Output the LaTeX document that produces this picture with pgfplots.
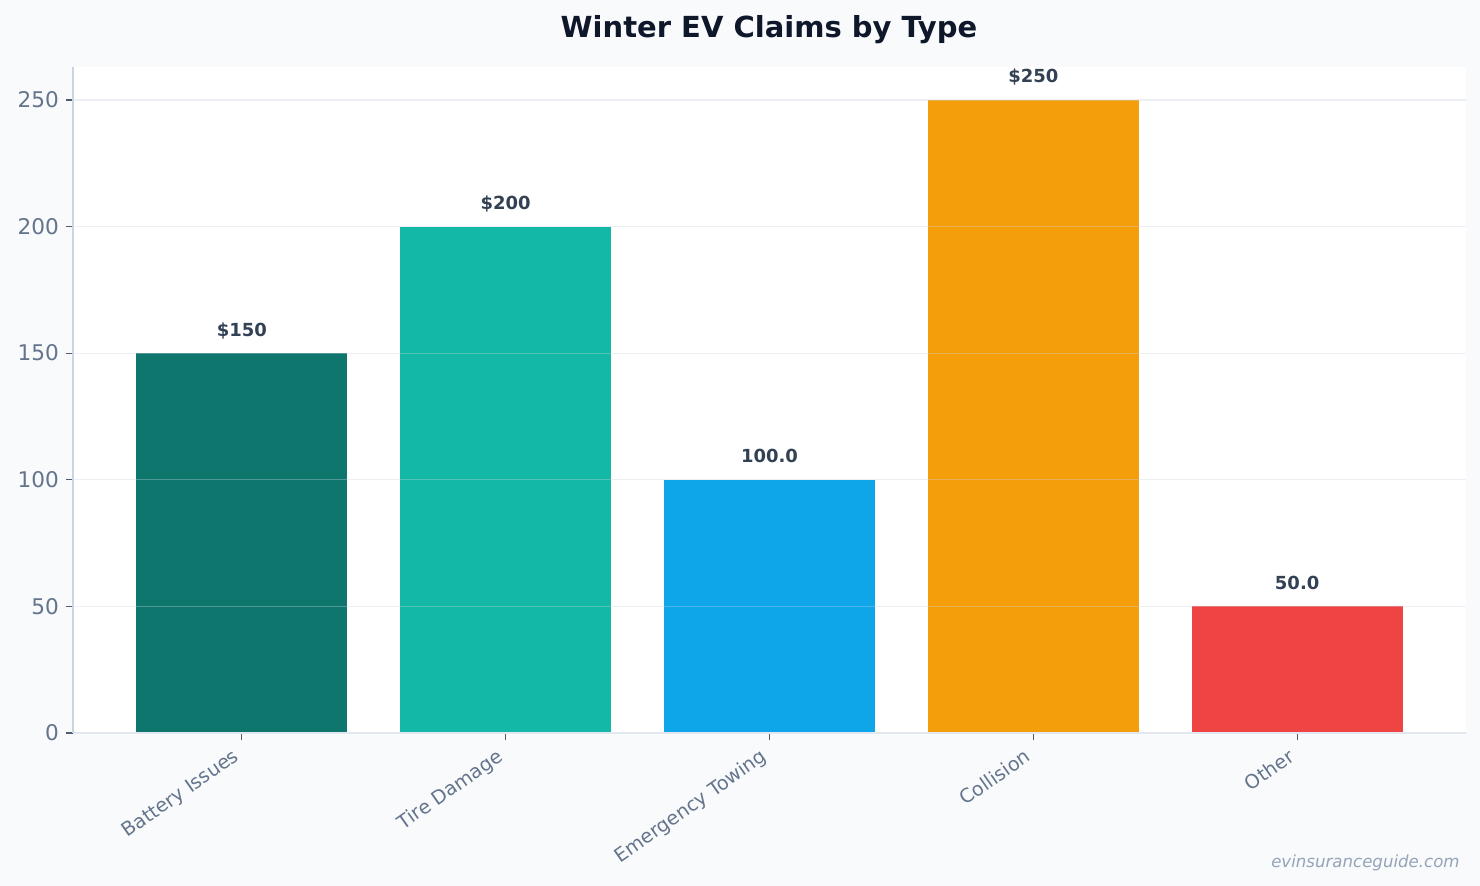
\documentclass[border=0pt]{standalone}
\usepackage{fontspec}
\setmainfont{DejaVu Sans}
\usepackage{pgfplots}
\pgfplotsset{compat=1.18}
\definecolor{bgc}{HTML}{F8FAFC}
\definecolor{titlec}{HTML}{0F172A}
\definecolor{tickc}{HTML}{64748B}
\definecolor{labc}{HTML}{334155}
\definecolor{spinec}{HTML}{CBD5E1}
\definecolor{spinex}{HTML}{E2E8F0}
\definecolor{wm}{HTML}{94A3B8}
\definecolor{c1}{HTML}{0F766E}
\definecolor{c2}{HTML}{14B8A6}
\definecolor{c3}{HTML}{0EA5E9}
\definecolor{c4}{HTML}{F59E0B}
\definecolor{c5}{HTML}{EF4444}
\begin{document}
\begin{tikzpicture}
\fill[bgc] (0,0) rectangle (740pt,443pt);
\useasboundingbox (0,0) rectangle (740pt,443pt);
\begin{axis}[
  at={(36.5pt,76.5pt)}, anchor=south west,
  scale only axis, width=696.5pt, height=333pt,
  xmin=-0.64, xmax=4.64, ymin=0, ymax=263,
  ybar, bar width=0.8, bar shift=0pt,
  axis background/.style={fill=white},
  axis on top,
  axis x line*=bottom, axis y line*=left,
  x axis line style={spinex, line width=0.8pt},
  y axis line style={spinec, line width=0.8pt},
  xtick={0,1,2,3,4},
  xticklabels={Battery Issues, Tire Damage, Emergency Towing, Collision, Other},
  ytick={0,50,100,150,200,250},
  tick align=outside, major tick length=3.5pt,
  tick style={tickc!80!black, line width=0.6pt},
  xticklabel style={xshift=-4.7pt, yshift=-2.3pt, rotate=35, anchor=north east, font=\fontsize{9.6}{11}\selectfont, text=tickc, inner sep=1pt},
  yticklabel style={font=\fontsize{10.8}{12}\selectfont, text=tickc},
  /pgf/number format/assume math mode=true,
  ymajorgrids, grid style={spinec, opacity=0.35, line width=0.6pt},
  point meta=explicit symbolic,
  nodes near coords,
  every node near coord/.append style={font=\bfseries\fontsize{9}{10}\selectfont, text=labc, anchor=base, yshift=8.5pt},
]
\addplot[fill=c1, draw=none] coordinates {(0,150) [\$150]};
\addplot[fill=c2, draw=none] coordinates {(1,200) [\$200]};
\addplot[fill=c3, draw=none] coordinates {(2,100) [100.0]};
\addplot[fill=c4, draw=none] coordinates {(3,250) [\$250]};
\addplot[fill=c5, draw=none] coordinates {(4,50) [50.0]};
\end{axis}
\node[font=\bfseries\fontsize{14.5}{16}\selectfont, text=titlec] at (384.5pt,428pt) {Winter EV Claims by Type};
\node[font=\itshape\fontsize{8.3}{10}\selectfont, text=wm, anchor=base east, inner sep=0pt] at (730pt,9pt) {evinsuranceguide.com};
\end{tikzpicture}
\end{document}
